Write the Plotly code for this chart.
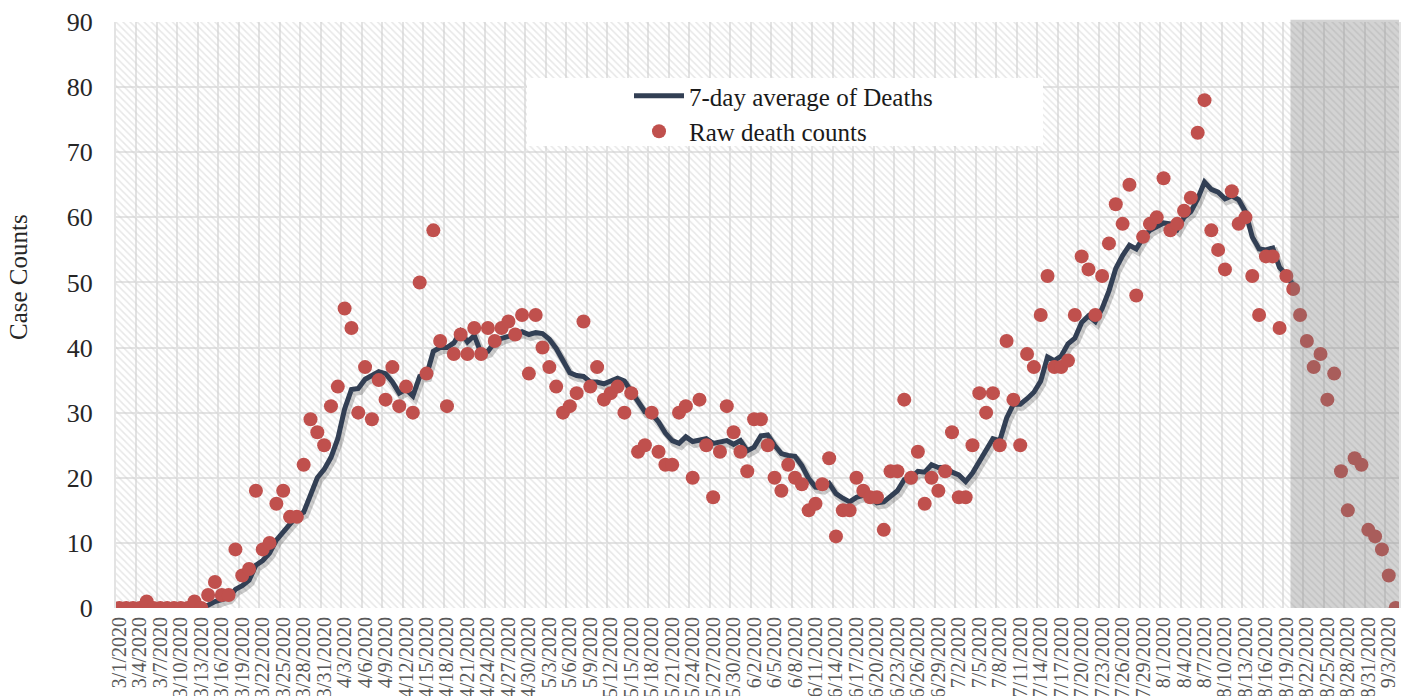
import pandas as pd
import plotly.graph_objects as go

# ---------------- data ----------------
start_date = "2020-03-01"

raw_deaths = [
    0, 0, 0, 0, 1, 0, 0, 0, 0, 0, 0, 1, 0, 2, 4, 2, 2, 9, 5, 6,
    18, 9, 10, 16, 18, 14, 14, 22, 29, 27, 25, 31, 34, 46, 43, 30, 37, 29, 35, 32,
    37, 31, 34, 30, 50, 36, 58, 41, 31, 39, 42, 39, 43, 39, 43, 41, 43, 44, 42, 45,
    36, 45, 40, 37, 34, 30, 31, 33, 44, 34, 37, 32, 33, 34, 30, 33, 24, 25, 30, 24,
    22, 22, 30, 31, 20, 32, 25, 17, 24, 31, 27, 24, 21, 29, 29, 25, 20, 18, 22, 20,
    19, 15, 16, 19, 23, 11, 15, 15, 20, 18, 17, 17, 12, 21, 21, 32, 20, 24, 16, 20,
    18, 21, 27, 17, 17, 25, 33, 30, 33, 25, 41, 32, 25, 39, 37, 45, 51, 37, 37, 38,
    45, 54, 52, 45, 51, 56, 62, 59, 65, 48, 57, 59, 60, 66, 58, 59, 61, 63, 73, 78,
    58, 55, 52, 64, 59, 60, 51, 45, 54, 54, 43, 51, 49, 45, 41, 37, 39, 32, 36, 21,
    15, 23, 22, 12, 11, 9, 5, 0,
]

# 7-day average line (starts on the 7th day, ends 8/20)
avg_first_day = 6
avg_7day = [
    0.14, 0.14, 0.14, 0.14, 0.14, 0.14, 0.14, 0.43, 1.0, 1.29,
    1.57, 2.86, 3.43, 4.29, 6.57, 7.29, 8.43, 10.43, 11.71, 13.0,
    14.14, 14.71, 17.57, 20.0, 21.29, 23.14, 26.0, 30.57, 33.57, 33.71,
    35.14, 35.71, 36.29, 36.0, 34.71, 33.0, 33.57, 32.57, 35.57, 35.71,
    39.43, 40.0, 40.0, 40.71, 42.43, 40.86, 41.86, 39.14, 39.43, 40.86,
    41.43, 41.71, 42.14, 42.43, 42.0, 42.29, 42.14, 41.29, 39.86, 38.14,
    36.14, 35.71, 35.57, 34.71, 34.71, 34.43, 34.86, 35.29, 34.86, 33.29,
    31.86, 30.14, 29.86, 28.57, 26.86, 25.71, 25.29, 26.29, 25.57, 25.86,
    26.0, 25.29, 25.57, 25.71, 25.14, 25.71, 24.14, 24.71, 26.43, 26.57,
    25.0, 23.71, 23.43, 23.29, 21.86, 19.86, 18.57, 18.43, 19.14, 17.57,
    16.86, 16.29, 17.0, 17.29, 17.0, 16.14, 16.29, 17.14, 18.0, 19.71,
    20.0, 21.0, 20.86, 22.0, 21.57, 21.57, 20.86, 20.43, 19.43, 20.71,
    22.57, 24.29, 26.0, 25.71, 29.14, 31.29, 31.29, 32.14, 33.14, 34.86,
    38.57, 38.0, 38.71, 40.57, 41.43, 43.86, 44.86, 44.0, 46.0, 48.71,
    52.14, 54.14, 55.71, 55.14, 56.86, 58.0, 58.57, 59.14, 59.0, 58.14,
    60.0, 60.86, 62.86, 65.43, 64.29, 63.86, 62.86, 63.29, 62.71, 60.86,
    57.0, 55.14, 55.0, 55.29, 52.29, 51.14, 49.57,
]

shade_start_index = 171.6   # shaded (incomplete data) period begins here
y_max = 90
y_step = 10
tick_every = 3

# ---------------- derived categories ----------------
dates = pd.date_range(start_date, periods=len(raw_deaths))
date_labels = [f"{d.month}/{d.day}/{d.year}" for d in dates]
avg_labels = date_labels[avg_first_day:avg_first_day + len(avg_7day)]
n = len(date_labels)

LINE_COLOR = "#323F54"
DOT_COLOR = "#C0504D"
GRID = "#E3E3E3"
FONT = "Liberation Serif"

# page body has an 8px margin: the figure is sized to fit the window
FIG_W, FIG_H = 1405, 688
M_L, M_R, M_T, M_B = 108, 14, 14, 88
plot_w = FIG_W - M_L - M_R
plot_h = FIG_H - M_T - M_B

# shadow offset in axis units (about 2px right, 3px down)
dx = 2 / (plot_w / n)
dy = 3 / (plot_h / y_max)


def px_x(px):
    """window pixel x -> paper coordinate"""
    return (px - 8 - M_L) / plot_w


def px_y(py):
    """window pixel y -> paper coordinate"""
    return (FIG_H - M_B - (py - 8)) / plot_h


fig = go.Figure()

# hatched plot background
fig.add_trace(go.Bar(
    x=[0.5], y=[1], width=[1], xaxis="x", yaxis="y",
    marker=dict(color="rgba(0,0,0,0)", line=dict(width=0),
                pattern=dict(shape="\\", size=5, solidity=0.3,
                             fgcolor="#D0D0D0", bgcolor="rgba(0,0,0,0)")),
    showlegend=False, hoverinfo="skip",
))

# line shadow
fig.add_trace(go.Scatter(
    x=avg_labels, y=avg_7day, xaxis="x2", yaxis="y2", mode="lines",
    line=dict(color="rgba(0,0,0,0.2)", width=7),
    showlegend=False, hoverinfo="skip",
))

# 7-day average
fig.add_trace(go.Scatter(
    x=avg_labels, y=avg_7day, xaxis="x3", yaxis="y3", mode="lines",
    name="7-day average of Deaths",
    line=dict(color=LINE_COLOR, width=5),
))

# raw counts
fig.add_trace(go.Scatter(
    x=date_labels, y=raw_deaths, xaxis="x3", yaxis="y3", mode="markers",
    name="Raw death counts",
    marker=dict(color=DOT_COLOR, size=14, line=dict(width=0)),
))

fig.update_layout(
    width=FIG_W, height=FIG_H,
    margin=dict(l=M_L, r=M_R, t=M_T, b=M_B),
    paper_bgcolor="white", plot_bgcolor="white",
    font=dict(family=FONT, color="#262626"),
    barmode="overlay",
    xaxis=dict(range=[0, 1], visible=False),
    yaxis=dict(range=[0, 1], visible=False),
    xaxis2=dict(type="category", overlaying="x", anchor="y2",
                categoryorder="array", categoryarray=date_labels,
                range=[-0.5 - dx, n - 0.5 - dx], visible=False),
    yaxis2=dict(overlaying="y", anchor="x2", range=[dy, y_max + dy], visible=False),
    xaxis3=dict(type="category", overlaying="x", anchor="y3",
                categoryorder="array", categoryarray=date_labels,
                range=[-0.5, n - 0.5], tickmode="linear", tick0=0, dtick=tick_every,
                tickson="boundaries", showgrid=True, gridcolor=GRID, gridwidth=2,
                ticks="", tickangle=-90, automargin=False, ticklabelstandoff=4,
                tickfont=dict(family=FONT, size=20, color="#595959"),
                showline=False, zeroline=False),
    yaxis3=dict(overlaying="y", anchor="x3", range=[0, y_max], dtick=y_step, tick0=0,
                showgrid=True, gridcolor=GRID, gridwidth=2, ticks="",
                automargin=False, ticklabelstandoff=16, zeroline=False,
                showline=True, mirror=True, linecolor=GRID, linewidth=2,
                tickfont=dict(family=FONT, size=26, color="#262626")),
    showlegend=True,
    legend=dict(x=px_x(629), y=px_y(73), xanchor="left", yanchor="top",
                bgcolor="rgba(0,0,0,0)", font=dict(family=FONT, size=25, color="#1A1A1A"),
                itemwidth=50, tracegroupgap=0),
    shapes=[
        dict(type="rect", xref="paper", yref="paper", x0=px_x(527), x1=px_x(1043),
             y0=px_y(146), y1=px_y(78), fillcolor="white", line=dict(width=0), layer="above"),
        dict(type="rect", xref="x3", yref="paper", x0=shade_start_index, x1=n - 0.5,
             y0=0, y1=1.004, fillcolor="rgba(120,120,120,0.33)", line=dict(width=0),
             layer="above"),
    ],
    annotations=[
        dict(text="Case Counts", textangle=-90, xref="paper", yref="paper",
             x=px_x(18), y=px_y(277), xanchor="center", yanchor="middle",
             showarrow=False, font=dict(family=FONT, size=25, color="#262626")),
    ],
)

fig.write_html("out.html")
